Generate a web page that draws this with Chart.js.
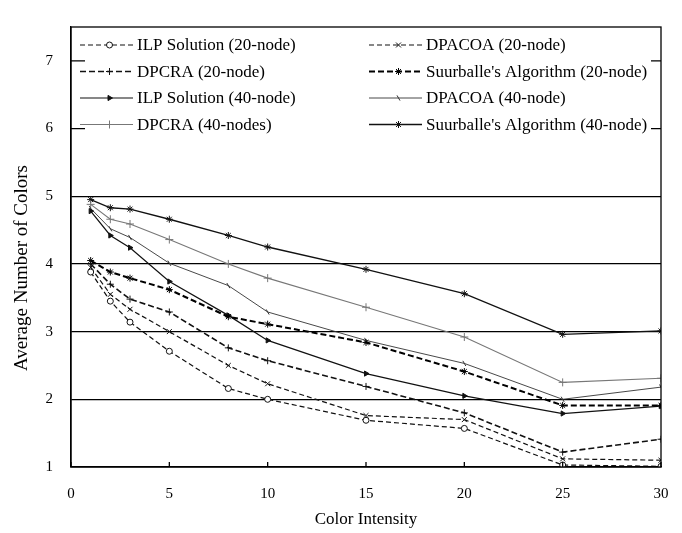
<!DOCTYPE html>
<html>
<head>
<meta charset="utf-8">
<script src="https://cdn.jsdelivr.net/npm/chart.js@4"></script>
<style>
html,body{margin:0;padding:0;background:#fff;}
#wrap{width:682px;height:533px;}
</style>
</head>
<body>
<div id="wrap"><canvas id="c" width="682" height="533"></canvas></div>
<script>
const xValues = [1, 2, 3, 5, 8, 10, 15, 20, 25, 30];
const seriesNames = [
  "ILP Solution (20-node)", "DPACOA (20-node)",
  "DPCRA (20-node)", "Suurballe's Algorithm (20-node)",
  "ILP Solution (40-node)", "DPACOA (40-node)",
  "DPCRA (40-nodes)", "Suurballe's Algorithm (40-node)"
];
const ilp20       = [3.88, 3.45, 3.14, 2.71, 2.16, 2.00, 1.69, 1.57, 1.03, 1.01];
const dpacoa20    = [3.95, 3.55, 3.33, 3.00, 2.50, 2.23, 1.76, 1.70, 1.12, 1.10];
const dpcra20     = [4.00, 3.70, 3.48, 3.29, 2.76, 2.57, 2.19, 1.80, 1.22, 1.41];
const suurballe20 = [4.05, 3.88, 3.79, 3.62, 3.22, 3.11, 2.84, 2.41, 1.91, 1.91];
const ilp40       = [4.78, 4.42, 4.24, 3.74, 3.24, 2.87, 2.38, 2.05, 1.79, 1.90];
const dpacoa40    = [4.82, 4.52, 4.39, 4.01, 3.68, 3.29, 2.87, 2.53, 2.00, 2.18];
const dpcra40     = [4.88, 4.66, 4.59, 4.36, 4.00, 3.79, 3.36, 2.92, 2.25, 2.31];
const suurballe40 = [4.95, 4.83, 4.81, 4.66, 4.42, 4.25, 3.92, 3.56, 2.96, 3.01];
const seriesValues = [ilp20, dpacoa20, dpcra20, suurballe20, ilp40, dpacoa40, dpcra40, suurballe40];
const xTicks = [0, 5, 10, 15, 20, 25, 30];
const yTicks = [1, 2, 3, 4, 5, 6, 7];
const xTitle = 'Color Intensity';
const yTitle = 'Average Number of Colors';

const FONT = "'Liberation Serif', 'DejaVu Serif', serif";
const styles = [
  {color:'#111', width:1.2, dash:[5,3], point:'circle', r:3, bg:'#fff', rot:0},
  {color:'#111', width:1.2, dash:[5,3], point:'crossRot', r:3.5, bg:'#111', rot:0},
  {color:'#111', width:1.6, dash:[6,3], point:'cross', r:3.5, bg:'#111', rot:0},
  {color:'#000', width:2.0, dash:[6,3], point:'star', r:3.5, bg:'#000', rot:0},
  {color:'#111', width:1.2, dash:[], point:'triangle', r:3, bg:'#111', rot:90},
  {color:'#333', width:0.9, dash:[], point:'line', r:3, bg:'#333', rot:60},
  {color:'#777', width:1.1, dash:[], point:'cross', r:4, bg:'#777', rot:0},
  {color:'#111', width:1.3, dash:[], point:'star', r:3.5, bg:'#111', rot:0}
];

const datasets = seriesValues.map((vals, i) => ({
  label: seriesNames[i],
  data: xValues.map((x, j) => ({x: x, y: vals[j]})),
  borderColor: styles[i].color,
  backgroundColor: styles[i].bg,
  borderWidth: styles[i].width,
  borderDash: styles[i].dash,
  pointStyle: styles[i].point,
  pointRadius: styles[i].r,
  pointRotation: styles[i].rot,
  pointBorderColor: styles[i].color,
  pointBorderWidth: 1,
  pointBackgroundColor: styles[i].bg,
  tension: 0,
  fill: false
}));

const frame = {
  id: 'frame',
  afterDatasetsDraw(chart) {
    const ctx = chart.ctx, a = chart.chartArea;
    const ys = chart.scales.y, xs = chart.scales.x;
    ctx.save();
    ctx.strokeStyle = '#000';
    ctx.lineWidth = 1.3;
    ctx.strokeRect(a.left, a.top, a.right - a.left, a.bottom - a.top);
    [6, 7].forEach(v => {
      const y = ys.getPixelForValue(v);
      ctx.beginPath();
      ctx.moveTo(a.left, y); ctx.lineTo(a.left + 14, y);
      ctx.moveTo(a.right - 10, y); ctx.lineTo(a.right, y);
      ctx.stroke();
    });
    xTicks.forEach(v => {
      const x = xs.getPixelForValue(v);
      ctx.beginPath();
      ctx.moveTo(x, a.bottom); ctx.lineTo(x, a.bottom - 5);
      ctx.stroke();
    });
    ctx.restore();
  },
  afterDraw(chart) {
    const ctx = chart.ctx;
    ctx.save();
    ctx.fillStyle = '#000';
    ctx.save();
    ctx.font = "19px " + FONT;
    ctx.textAlign = 'center';
    ctx.textBaseline = 'middle';
    ctx.translate(22, 268);
    ctx.rotate(-Math.PI / 2);
    ctx.fillText(yTitle, 0, 0);
    ctx.restore();
    ctx.font = "17px " + FONT;
    ctx.textBaseline = 'middle';
    ctx.textAlign = 'left';
    chart.data.datasets.forEach((ds, i) => {
      const col = i % 2, row = Math.floor(i / 2);
      const x0 = col === 0 ? 80 : 369;
      const x1 = x0 + 53;
      const y = 45 + row * 26.5;
      ctx.save();
      ctx.strokeStyle = ds.borderColor;
      ctx.lineWidth = ds.borderWidth;
      ctx.setLineDash(ds.borderDash);
      ctx.beginPath(); ctx.moveTo(x0, y); ctx.lineTo(x1, y); ctx.stroke();
      ctx.setLineDash([]);
      ctx.fillStyle = ds.pointBackgroundColor;
      ctx.strokeStyle = ds.pointBorderColor;
      ctx.lineWidth = 1;
      Chart.helpers.drawPoint(ctx, {pointStyle: ds.pointStyle, radius: ds.pointRadius, rotation: ds.pointRotation, borderWidth: 1}, (x0 + x1) / 2 + 3, y);
      ctx.restore();
      ctx.fillText(ds.label, x1 + 4, y + 1);
    });
    ctx.restore();
  }
};

new Chart(document.getElementById('c'), {
  type: 'line',
  data: { datasets: datasets },
  plugins: [frame],
  options: {
    responsive: false,
    animation: false,
    layout: { padding: { top: 9, right: 21, left: 0, bottom: 0 } },
    plugins: { legend: { display: false }, tooltip: { enabled: false } },
    scales: {
      x: {
        type: 'linear', min: 0, max: 30,
        afterBuildTicks: s => { s.ticks = xTicks.map(v => ({value: v})); },
        afterFit: s => { s.height = 66; s.paddingRight = 0; s.paddingLeft = 0; },
        grid: { display: false, drawTicks: false },
        border: { display: true, color: '#000', width: 1.3 },
        ticks: { color: '#000', padding: 18, font: { family: FONT, size: 15 }, maxRotation: 0 },
        title: { display: true, text: xTitle, color: '#000', font: { family: FONT, size: 17 }, padding: { top: 6, bottom: 3 } }
      },
      y: {
        type: 'linear', min: 1, max: 7.5,
        afterBuildTicks: s => { s.ticks = yTicks.concat([7.5]).map(v => ({value: v})); },
        afterFit: s => { s.width = 71; },
        grid: {
          drawTicks: false,
          color: c => (c.tick && c.tick.value <= 5 ? '#000' : 'rgba(0,0,0,0)'),
          lineWidth: 1.3
        },
        border: { display: true, color: '#000', width: 1.3 },
        ticks: { color: '#000', padding: 18, font: { family: FONT, size: 15 },
          callback: v => (Number.isInteger(v) ? String(v) : '') },
        title: { display: false }
      }
    }
  }
});
</script>
</body>
</html>
